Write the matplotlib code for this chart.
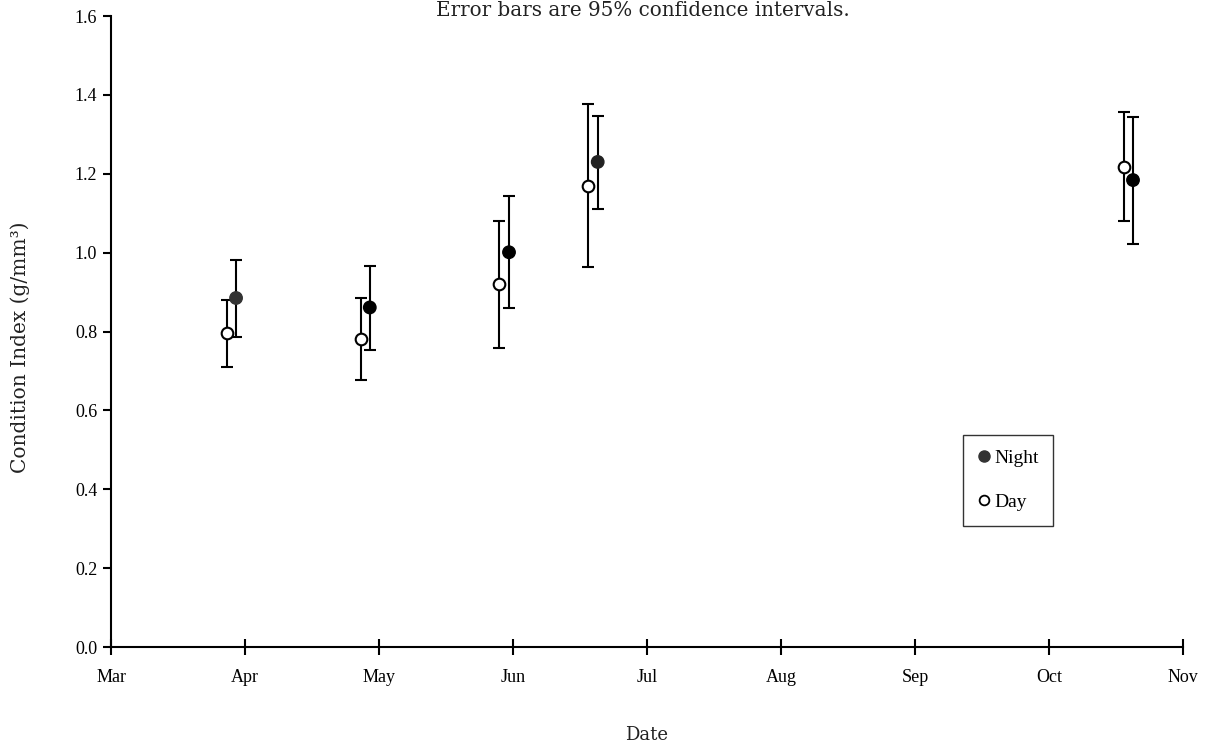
import matplotlib
matplotlib.use("Agg")
import matplotlib.pyplot as plt
from matplotlib.lines import Line2D

# months after 1 March (axis is one unit per month)
months = ["Mar", "Apr", "May", "Jun", "Jul", "Aug", "Sep", "Oct", "Nov"]

day_x = [0.866, 1.863, 2.898, 3.562, 7.560]
day_y = [0.795, 0.781, 0.920, 1.170, 1.218]
day_lo = [0.709, 0.676, 0.759, 0.964, 1.079]
day_hi = [0.880, 0.886, 1.080, 1.377, 1.357]

night_x = [0.933, 1.931, 2.970, 3.632, 7.627]
night_y = [0.885, 0.861, 1.001, 1.230, 1.184]
night_lo = [0.786, 0.754, 0.860, 1.111, 1.022]
night_hi = [0.981, 0.967, 1.143, 1.347, 1.345]
night_col = ["#333333", "black", "black", "#222222", "black"]

plt.rcParams["font.family"] = ["Liberation Serif", "DejaVu Serif"]
label_font = ["DejaVu Serif"]

fig = plt.figure(figsize=(12.07, 7.48), dpi=100)
ax = fig.add_axes([0.0920, 0.1350, 0.8881, 0.8436])

def err(y, lo, hi):
    return [[v - l for v, l in zip(y, lo)], [h - v for v, h in zip(y, hi)]]

ax.errorbar(day_x, day_y, yerr=err(day_y, day_lo, day_hi), fmt="none",
            ecolor="black", elinewidth=1.5, capsize=4, capthick=1.5, zorder=2)
ax.errorbar(night_x, night_y, yerr=err(night_y, night_lo, night_hi), fmt="none",
            ecolor="black", elinewidth=1.5, capsize=4, capthick=1.5, zorder=2)
ax.scatter(day_x, day_y, s=70, facecolor="white", edgecolor="black",
           linewidth=1.5, zorder=3)
ax.scatter(night_x, night_y, s=80, facecolor=night_col, edgecolor=night_col,
           linewidth=1, zorder=3)

ax.set_xlim(0, 8)
ax.set_ylim(0, 1.6)
ax.set_xticks(range(len(months)))
ax.set_xticklabels(months)
ax.set_yticks([0.0, 0.2, 0.4, 0.6, 0.8, 1.0, 1.2, 1.4, 1.6])
ax.set_yticklabels(["%.1f" % v for v in ax.get_yticks()])

for s in ["top", "right"]:
    ax.spines[s].set_visible(False)
for s in ["left", "bottom"]:
    ax.spines[s].set_linewidth(1.5)
ax.tick_params(axis="y", direction="out", length=6, width=1.5, labelsize=13, pad=4)
ax.tick_params(axis="x", direction="inout", length=12, width=1.5, labelsize=13, pad=10)

fig.text(647 / 1207, 1 - 735 / 748, "Date", ha="center", va="center",
         fontsize=13, family=label_font, color="#222222")
fig.text(20 / 1207, 1 - 347 / 748, "Condition Index (g/mm³)", ha="center",
         va="center", rotation=90, fontsize=14.5, family=label_font, color="#222222")
fig.text(643 / 1207, 1 - 11 / 748, "Error bars are 95% confidence intervals.",
         ha="center", va="center", fontsize=14.3, family=label_font, color="#222222")

handles = [
    Line2D([], [], ls="none", marker="o", markersize=8, markerfacecolor="#333333",
           markeredgecolor="#333333"),
    Line2D([], [], ls="none", marker="o", markersize=7, markerfacecolor="white",
           markeredgecolor="black", markeredgewidth=1.3),
]
leg = fig.legend(handles, ["Night", "Day"], loc="upper left",
                 bbox_to_anchor=(963 / 1207, 1 - 435 / 748), borderaxespad=0,
                 fontsize=14, frameon=True, fancybox=False, labelspacing=1.35,
                 handlelength=0.7, handletextpad=0.15, borderpad=0.75)
leg.get_frame().set_edgecolor("black")
leg.get_frame().set_linewidth(1.0)

fig.savefig("out.png", dpi=100)
